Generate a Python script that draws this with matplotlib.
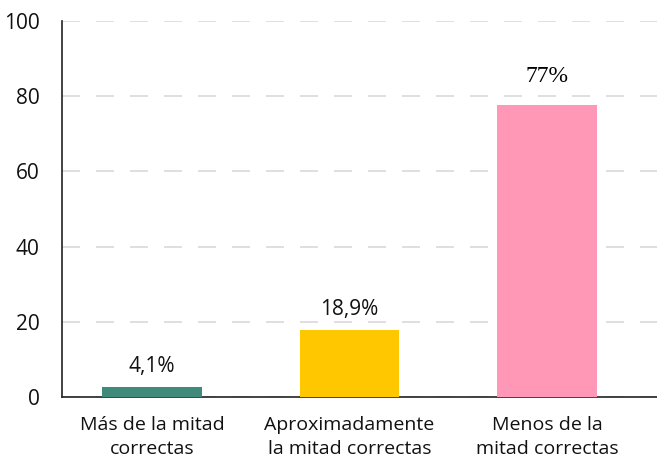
import matplotlib

matplotlib.use("Agg")
import matplotlib.pyplot as plt
from matplotlib.font_manager import FontProperties

# categories and values
categories = ["Más de la mitad\ncorrectas", "Aproximadamente\nla mitad correctas", "Menos de la\nmitad correctas"]
bar_heights = [2.7, 17.8, 77.7]
value_labels = ["4,1%", "18,9%", "77%"]
bar_colors = ["#3f8a7a", "#ffc700", "#ff98b6"]
y_ticks = [0, 20, 40, 60, 80, 100]

plt.rcParams["font.family"] = ["Open Sans", "DejaVu Sans"]

fig = plt.figure(figsize=(6.57, 4.59), dpi=100)
ax = fig.add_axes([0.0944, 0.135, 0.9056, 0.819])

x = list(range(len(categories)))
ax.bar(x, bar_heights, width=0.506, color=bar_colors, zorder=3)

# the reference draws the last label in a serif face
serif = FontProperties(family=["Liberation Serif", "DejaVu Serif"], size=17)
for i, (h, lab) in enumerate(zip(bar_heights, value_labels)):
    if lab == "77%":
        ax.annotate(lab, (i, h), xytext=(0, 13), textcoords="offset points",
                    ha="center", va="bottom", fontproperties=serif, color="#000000")
    else:
        ax.annotate(lab, (i, h), xytext=(0, 7), textcoords="offset points",
                    ha="center", va="bottom", fontsize=15, color="#111111")

ax.set_xlim(-0.456, 2.557)
ax.set_ylim(0, 100)
ax.set_yticks(y_ticks)
ax.set_yticklabels([str(t) for t in y_ticks], fontsize=15, color="#111111")
ax.set_xticks(x)
ax.set_xticklabels(categories, fontsize=14, color="#111111", linespacing=1.4)
ax.tick_params(axis="both", length=0)
ax.tick_params(axis="y", pad=16)
ax.tick_params(axis="x", pad=14)

ax.yaxis.grid(True, color="#d9d9d9", linestyle=(0, (10.8, 9.6)), linewidth=1.2, zorder=0)
ax.set_axisbelow(True)
for s in ["top", "right"]:
    ax.spines[s].set_visible(False)
ax.spines["left"].set_color("#222222")
ax.spines["bottom"].set_color("#222222")
ax.spines["left"].set_linewidth(1.2)
ax.spines["bottom"].set_linewidth(1.2)

fig.savefig("out.png", dpi=100)
